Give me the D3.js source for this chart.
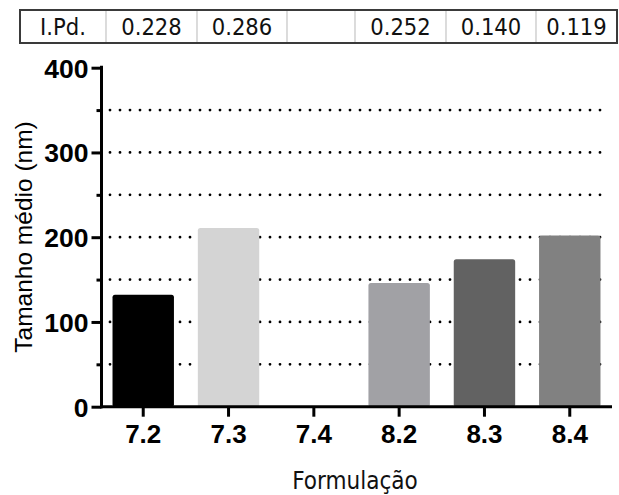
<!DOCTYPE html>
<html>
<head>
<meta charset="utf-8">
<script src="https://cdn.jsdelivr.net/npm/d3@7"></script>
<style>
  body { margin: 0; background: #fff; }
  svg { display: block; }
  .cond { font-family: "DejaVu Sans Condensed", "DejaVu Sans", sans-serif; font-stretch: condensed; }
  .arial { font-family: "Liberation Sans", Arial, sans-serif; }
</style>
</head>
<body>
<div id="chart"></div>
<script>
// data
const formulations = ["7.2", "7.3", "7.4", "8.2", "8.3", "8.4"];
const meanSize = [132, 211, null, 146, 174, 202];   // nm, 7.4 has no bar
const barColors = ["#000000", "#d4d4d4", "#ffffff", "#a1a1a5", "#626262", "#818181"];
const ipdLabel = "I.Pd.";
const ipdValues = ["0.228", "0.286", "", "0.252", "0.140", "0.119"];
const yMajorTicks = [0, 100, 200, 300, 400];
const yMinorTicks = [50, 150, 250, 350];
const gridValues = [50, 100, 150, 200, 250, 300, 350];

const width = 619, height = 495;

const svg = d3.select("#chart").append("svg")
    .attr("width", width)
    .attr("height", height);

// --- table on top ---
const tableEdges = [20, 106, 197, 287, 355, 446, 536, 617];
const tableTop = 10, tableBottom = 43;
const cells = [ipdLabel].concat(ipdValues);

const table = svg.append("g");
table.selectAll("line.div")
    .data(tableEdges.slice(1, -1))
    .join("line")
    .attr("x1", d => d).attr("x2", d => d)
    .attr("y1", tableTop).attr("y2", tableBottom)
    .attr("stroke", "#c4c4c4")
    .attr("stroke-width", 1.2);

table.append("rect")
    .attr("x", tableEdges[0])
    .attr("y", tableTop)
    .attr("width", tableEdges[tableEdges.length - 1] - tableEdges[0])
    .attr("height", tableBottom - tableTop)
    .attr("fill", "none")
    .attr("stroke", "#3a3a3a")
    .attr("stroke-width", 2);

table.selectAll("text")
    .data(cells)
    .join("text")
    .attr("class", "cond")
    .attr("x", (d, i) => (tableEdges[i] + tableEdges[i + 1]) / 2)
    .attr("y", 34.5)
    .attr("text-anchor", "middle")
    .attr("font-size", 23.5)
    .attr("fill", "#111")
    .text(d => d);

// --- chart ---
const x = d3.scaleBand()
    .domain(formulations)
    .range([101, 612])
    .paddingInner(0.28)
    .paddingOuter(0.135);

const y = d3.scaleLinear()
    .domain([0, 400])
    .range([406.7, 67.7]);

// dotted grid (behind bars)
svg.append("g")
    .selectAll("line")
    .data(gridValues)
    .join("line")
    .attr("x1", 110)
    .attr("x2", 608)
    .attr("y1", d => y(d))
    .attr("y2", d => y(d))
    .attr("stroke", "#000")
    .attr("stroke-width", 2.8)
    .attr("stroke-linecap", "round")
    .attr("stroke-dasharray", "0 10");

const bars = formulations.map((f, i) => ({ f, v: meanSize[i], c: barColors[i] }))
    .filter(d => d.v != null);

svg.append("g")
    .selectAll("rect")
    .data(bars)
    .join("rect")
    .attr("x", d => x(d.f))
    .attr("y", d => y(d.v))
    .attr("width", x.bandwidth())
    .attr("height", d => y(0) - y(d.v))
    .attr("rx", 2.5)
    .attr("fill", d => d.c);

// y axis
const yAxis = svg.append("g")
    .attr("transform", "translate(101.5,0)")
    .call(d3.axisLeft(y).tickValues(yMajorTicks).tickSize(10).tickSizeOuter(0).tickPadding(3));
yAxis.select(".domain").attr("stroke-width", 3).attr("d", `M0,${y(400) - 2}V${y(0) + 1.5}`);
yAxis.selectAll(".tick line").attr("stroke-width", 3);
yAxis.selectAll(".tick text")
    .attr("class", "arial")
    .attr("font-size", 26.5)
    .attr("font-weight", "bold")
    .attr("fill", "#000")
    .attr("dy", "0.36em");

const yMinor = svg.append("g")
    .attr("transform", "translate(101.5,0)")
    .call(d3.axisLeft(y).tickValues(yMinorTicks).tickSize(5).tickFormat(""));
yMinor.select(".domain").remove();
yMinor.selectAll(".tick line").attr("stroke-width", 3);

// x axis
const xAxis = svg.append("g")
    .attr("transform", `translate(0,${y(0)})`)
    .call(d3.axisBottom(x).tickSize(10).tickSizeOuter(0).tickPadding(8));
xAxis.select(".domain").attr("stroke-width", 3).attr("d", "M100,0H612");
xAxis.selectAll(".tick line").attr("stroke-width", 3);
xAxis.selectAll(".tick text")
    .attr("class", "arial")
    .attr("font-size", 26)
    .attr("font-weight", "bold")
    .attr("fill", "#000");

// axis titles
svg.append("text")
    .attr("class", "arial")
    .attr("transform", "translate(32,237) rotate(-90)")
    .attr("text-anchor", "middle")
    .attr("font-size", 24.5)
    .attr("fill", "#000")
    .text("Tamanho médio (nm)");

svg.append("text")
    .attr("class", "cond")
    .attr("x", 355)
    .attr("y", 489)
    .attr("text-anchor", "middle")
    .attr("font-size", 24)
    .attr("fill", "#111")
    .text("Formulação");
</script>
</body>
</html>
